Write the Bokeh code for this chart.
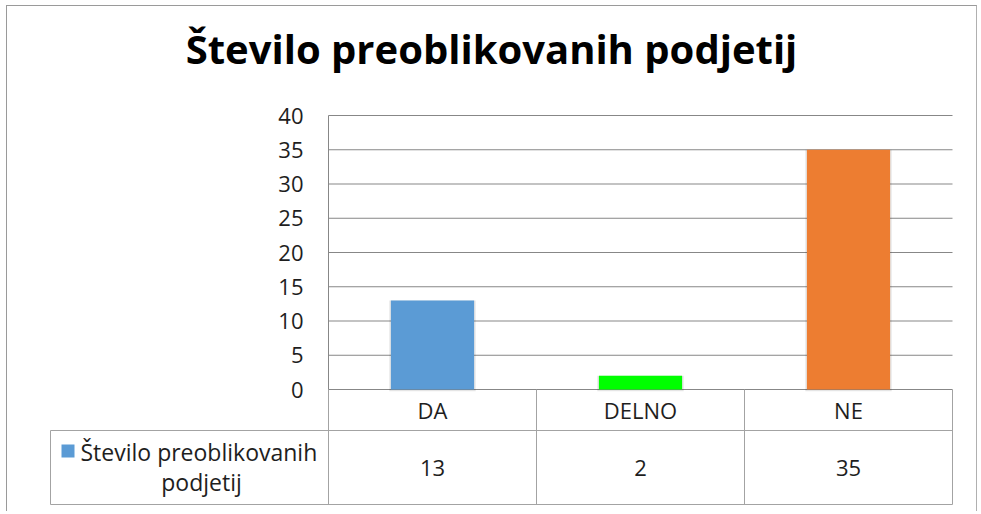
from bokeh.plotting import figure
from bokeh.models import Range1d, FixedTicker, ColumnDataSource, Label
from bokeh.embed import file_html
from bokeh.resources import INLINE
from bokeh.core.properties import value

# ---- data ----
title_text = "Število preoblikovanih podjetij"
series_lines = ["Število preoblikovanih", "podjetij"]
categories = ["DA", "DELNO", "NE"]
values = [13, 2, 35]
bar_colors = ["#5b9bd5", "#00ff00", "#ed7d31"]
y_ticks = [0, 5, 10, 15, 20, 25, 30, 35, 40]

# ---- layout constants (page pixels) ----
FONT = "Open Sans"
GRID = "#878787"
TABLE = "#a3a3a3"
TXT = "#1e1e1e"
OX, OY = 7, 6            # canvas origin on the page (margin + border)
CW, CH = 971, 506
FRAME_L, FRAME_R, FRAME_T, FRAME_B = 40, 960, 10, 508
AXIS_X, ZERO_Y, TOP_Y = 328, 389, 115
CELL = 208.0
YMAX = 40
PX_Y = (ZERO_Y - TOP_Y) / YMAX
n = len(categories)


def px2x(px):
    return (px - AXIS_X) / CELL


def px2y(py):
    return (ZERO_Y - py) / PX_Y


p = figure(width=CW, height=CH,
           x_range=Range1d(px2x(FRAME_L), px2x(FRAME_R)),
           y_range=Range1d(px2y(FRAME_B), px2y(FRAME_T)),
           min_border_left=FRAME_L - OX, min_border_right=OX + CW - FRAME_R,
           min_border_top=FRAME_T - OY, min_border_bottom=OY + CH - FRAME_B,
           x_axis_location=None, output_backend="svg", toolbar_location=None)
p.styles = {"margin-left": "6px", "margin-top": "5px",
            "border-left": "1px solid #9a9a9a", "border-top": "1px solid #9a9a9a",
            "border-right": "1px solid #b0b0b0"}
p.outline_line_color = None
p.grid.visible = False

# gridlines over the category area
p.segment(x0=[0] * len(y_ticks), y0=y_ticks, x1=[n] * len(y_ticks), y1=y_ticks,
          line_color=GRID, line_width=1)

# bars (soft shadow + bar)
cx = [i + 0.5 for i in range(n)]
src = ColumnDataSource(dict(x=cx, val=values, col=bar_colors))
p.vbar(x="x", top="val", bottom=-0.25, width=0.415, fill_color="#000000",
       fill_alpha=0.10, line_color=None, source=src)
p.vbar(x="x", top="val", width=0.4, fill_color="col", line_color=None, source=src)

# y axis fixed at the left edge of the first category cell
ax = p.yaxis[0]
ax.fixed_location = 0
ax.bounds = (0, YMAX)
ax.ticker = FixedTicker(ticks=y_ticks)
ax.major_tick_line_color = None
ax.minor_tick_line_color = None
ax.major_tick_out = 0
ax.major_tick_in = 0
ax.axis_line_color = GRID
ax.major_label_text_font = FONT
ax.major_label_text_font_size = "22px"
ax.major_label_text_color = TXT
ax.major_label_standoff = 25

# ---- data table ----
y_cat_bot = px2y(430)
y_val_bot = px2y(504)
leg_l = px2x(50)
xs = list(range(n + 1))
p.segment(x0=xs, y0=[0] * len(xs), x1=xs, y1=[y_val_bot] * len(xs), line_color=TABLE, line_width=1)
p.segment(x0=[leg_l], y0=[y_cat_bot], x1=[leg_l], y1=[y_val_bot], line_color=TABLE, line_width=1)
p.segment(x0=[leg_l, leg_l], y0=[y_cat_bot, y_val_bot], x1=[n, n], y1=[y_cat_bot, y_val_bot],
          line_color=TABLE, line_width=1)

p.text(x=cx, y=[y_cat_bot / 2] * n, text=categories, text_align="center",
       text_baseline="middle", text_font=value(FONT), text_font_size="22px", text_color=TXT)
p.text(x=cx, y=[(y_cat_bot + y_val_bot) / 2] * n, text=[str(v) for v in values],
       text_align="center", text_baseline="middle", text_font=value(FONT),
       text_font_size="22px", text_color=TXT)

# legend key + series name in the table's first cell
p.scatter(x=[px2x(67.5)], y=[px2y(450.5)], marker="square", size=13,
          fill_color=bar_colors[0], line_color=None)
p.text(x=[px2x(80)], y=[px2y(451)], text=[series_lines[0]], text_align="left",
       text_baseline="middle", text_font=value(FONT), text_font_size="23px", text_color=TXT)
p.text(x=[px2x(201)], y=[px2y(481)], text=[series_lines[1]], text_align="center",
       text_baseline="middle", text_font=value(FONT), text_font_size="23px", text_color=TXT)

# ---- title ----
p.add_layout(Label(x=px2x(491), y=px2y(48), text=title_text, text_align="center",
                   text_baseline="alphabetic", text_font=FONT, text_font_size="40px",
                   text_font_style="bold", text_color="#000000"))

open("out.html", "w").write(file_html(p, INLINE))
